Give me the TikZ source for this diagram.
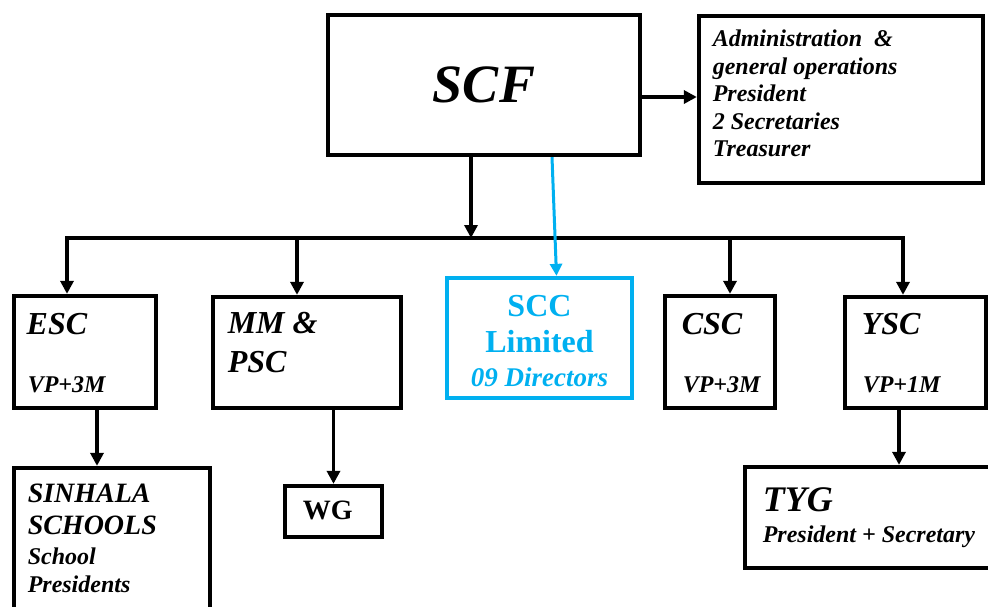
\documentclass[tikz,border=0pt]{standalone}
\usepackage{fontspec}
\setmainfont{Liberation Serif}
\usetikzlibrary{arrows.meta,positioning}
\definecolor{sccblue}{RGB}{0,176,240}

\begin{document}
\begin{tikzpicture}[->,>={Triangle[length=13pt,width=13pt]},x=1pt,y=-1pt,
                    line width=3.8pt]
  \tikzstyle{box}=[draw,rectangle,inner sep=0pt,line width=3.8pt]
  \tikzstyle{txt}=[inner sep=0pt,anchor=base west,align=left]
  \tikzstyle{head}=[txt,font=\fontsize{32}{39}\selectfont\bfseries\itshape]
  \tikzstyle{sub}=[txt,font=\fontsize{24}{27.5}\selectfont\bfseries\itshape]

  \useasboundingbox (0,0) rectangle (988,606);

  % top level
  \node[box,minimum width=312.5pt,minimum height=140.5pt,
        font=\fontsize{54}{60}\selectfont\bfseries\itshape] (scf) at (484,85) {SCF};
  \node[box,minimum width=284.5pt,minimum height=167.5pt] (adm) at (841,99.5) {};
  % base of a multi-line text = last line
  \node[sub] (admtxt) at ([shift={(14,143)}]adm.north west)
        {Administration\ \ \&\\general operations\\President\\2 Secretaries\\Treasurer};

  % committees
  \node[box,minimum width=142.5pt,minimum height=112.5pt] (esc) at (85,352) {};
  \node[head] (esctitle) at ([shift={(13,41)}]esc.north west) {ESC};
  \node[sub] (escmem) at ([shift={(14,99)}]esc.north west) {VP+3M};

  \node[box,minimum width=188.5pt,minimum height=111.5pt] (mm) at (307,352.5) {};
  \node[head] (mmtitle) at ([shift={(15,78)}]mm.north west) {MM \&\\PSC};

  \node[box,draw=sccblue,minimum width=185.5pt,minimum height=120.5pt] (scc) at (539.5,338) {};
  \node[inner sep=0pt,anchor=base,align=center,text=sccblue,
        font=\fontsize{32}{36}\selectfont\bfseries] (scctitle) at ([yshift=-77pt]scc.north) {SCC\\Limited};
  \node[inner sep=0pt,anchor=base,text=sccblue,
        font=\fontsize{27}{32}\selectfont\bfseries\itshape] (sccdir) at ([yshift=-111pt]scc.north) {09 Directors};

  \node[box,minimum width=110.5pt,minimum height=112.5pt] (csc) at (720,352) {};
  \node[head] (csctitle) at ([shift={(17,41)}]csc.north west) {CSC};
  \node[sub] (cscmem) at ([shift={(18,99)}]csc.north west) {VP+3M};

  \node[box,minimum width=141.5pt,minimum height=111.5pt] (ysc) at (915.5,352.5) {};
  \node[head] (ysctitle) at ([shift={(17,40)}]ysc.north west) {YSC};
  \node[sub] (yscmem) at ([shift={(18,98)}]ysc.north west) {VP+1M};

  % sub groups
  \node[box,minimum width=196.5pt,minimum height=180.5pt] (sin) at (112,558) {};
  \node[txt,font=\fontsize{28}{32}\selectfont\bfseries\itshape] (sintitle)
        at ([shift={(14,69)}]sin.north west) {SINHALA\\SCHOOLS};
  \node[sub,font=\fontsize{24}{28}\selectfont\bfseries\itshape] (sinmem)
        at ([shift={(14,127)}]sin.north west) {School\\Presidents};

  \node[box,minimum width=97.5pt,minimum height=51.5pt] (wg) at (333.5,511.5) {};
  \node[txt,font=\fontsize{28}{32}\selectfont\bfseries] (wgtitle)
        at ([shift={(18,36)}]wg.north west) {WG};

  \node[box,minimum width=253.5pt,minimum height=101.5pt] (tyg) at (871.5,517.5) {};
  \node[txt,font=\fontsize{36}{40}\selectfont\bfseries\itshape] (tygtitle)
        at ([shift={(18,47)}]tyg.north west) {TYG};
  \node[sub] (tygmem) at ([shift={(18,78)}]tyg.north west) {President + Secretary};

  % connectors
  \coordinate (tl) at (67,238);
  \coordinate (tr) at (903,238);
  \coordinate (t2) at (297,238);
  \coordinate (t3) at (730,238);
  \coordinate (a1) at ([yshift=-12pt]scf.east);

  \draw[<->] (tl |- esc.north) -- (tl) -- (tr) -- (tr |- ysc.north);
  \draw (t2) -- (t2 |- mm.north);
  \draw (t3) -- (t3 |- csc.north);
  \draw ([xshift=-13pt]scf.south) -- ([xshift=-13pt]scf.south |- tl);
  \draw[sccblue,line width=3pt,>={Triangle[length=12pt,width=12pt]}]
        ([xshift=68pt]scf.south) -- ([xshift=17pt]scc.north);
  \draw (a1) -- (a1 -| adm.west);
  \draw ([xshift=12pt]esc.south) -- ([xshift=12pt]esc.south |- sin.north);
  \draw (wg.north |- mm.south) -- (wg.north);
  \draw ([xshift=-16.5pt]ysc.south) -- ([xshift=-16.5pt]ysc.south |- tyg.north);
\end{tikzpicture}
\end{document}
